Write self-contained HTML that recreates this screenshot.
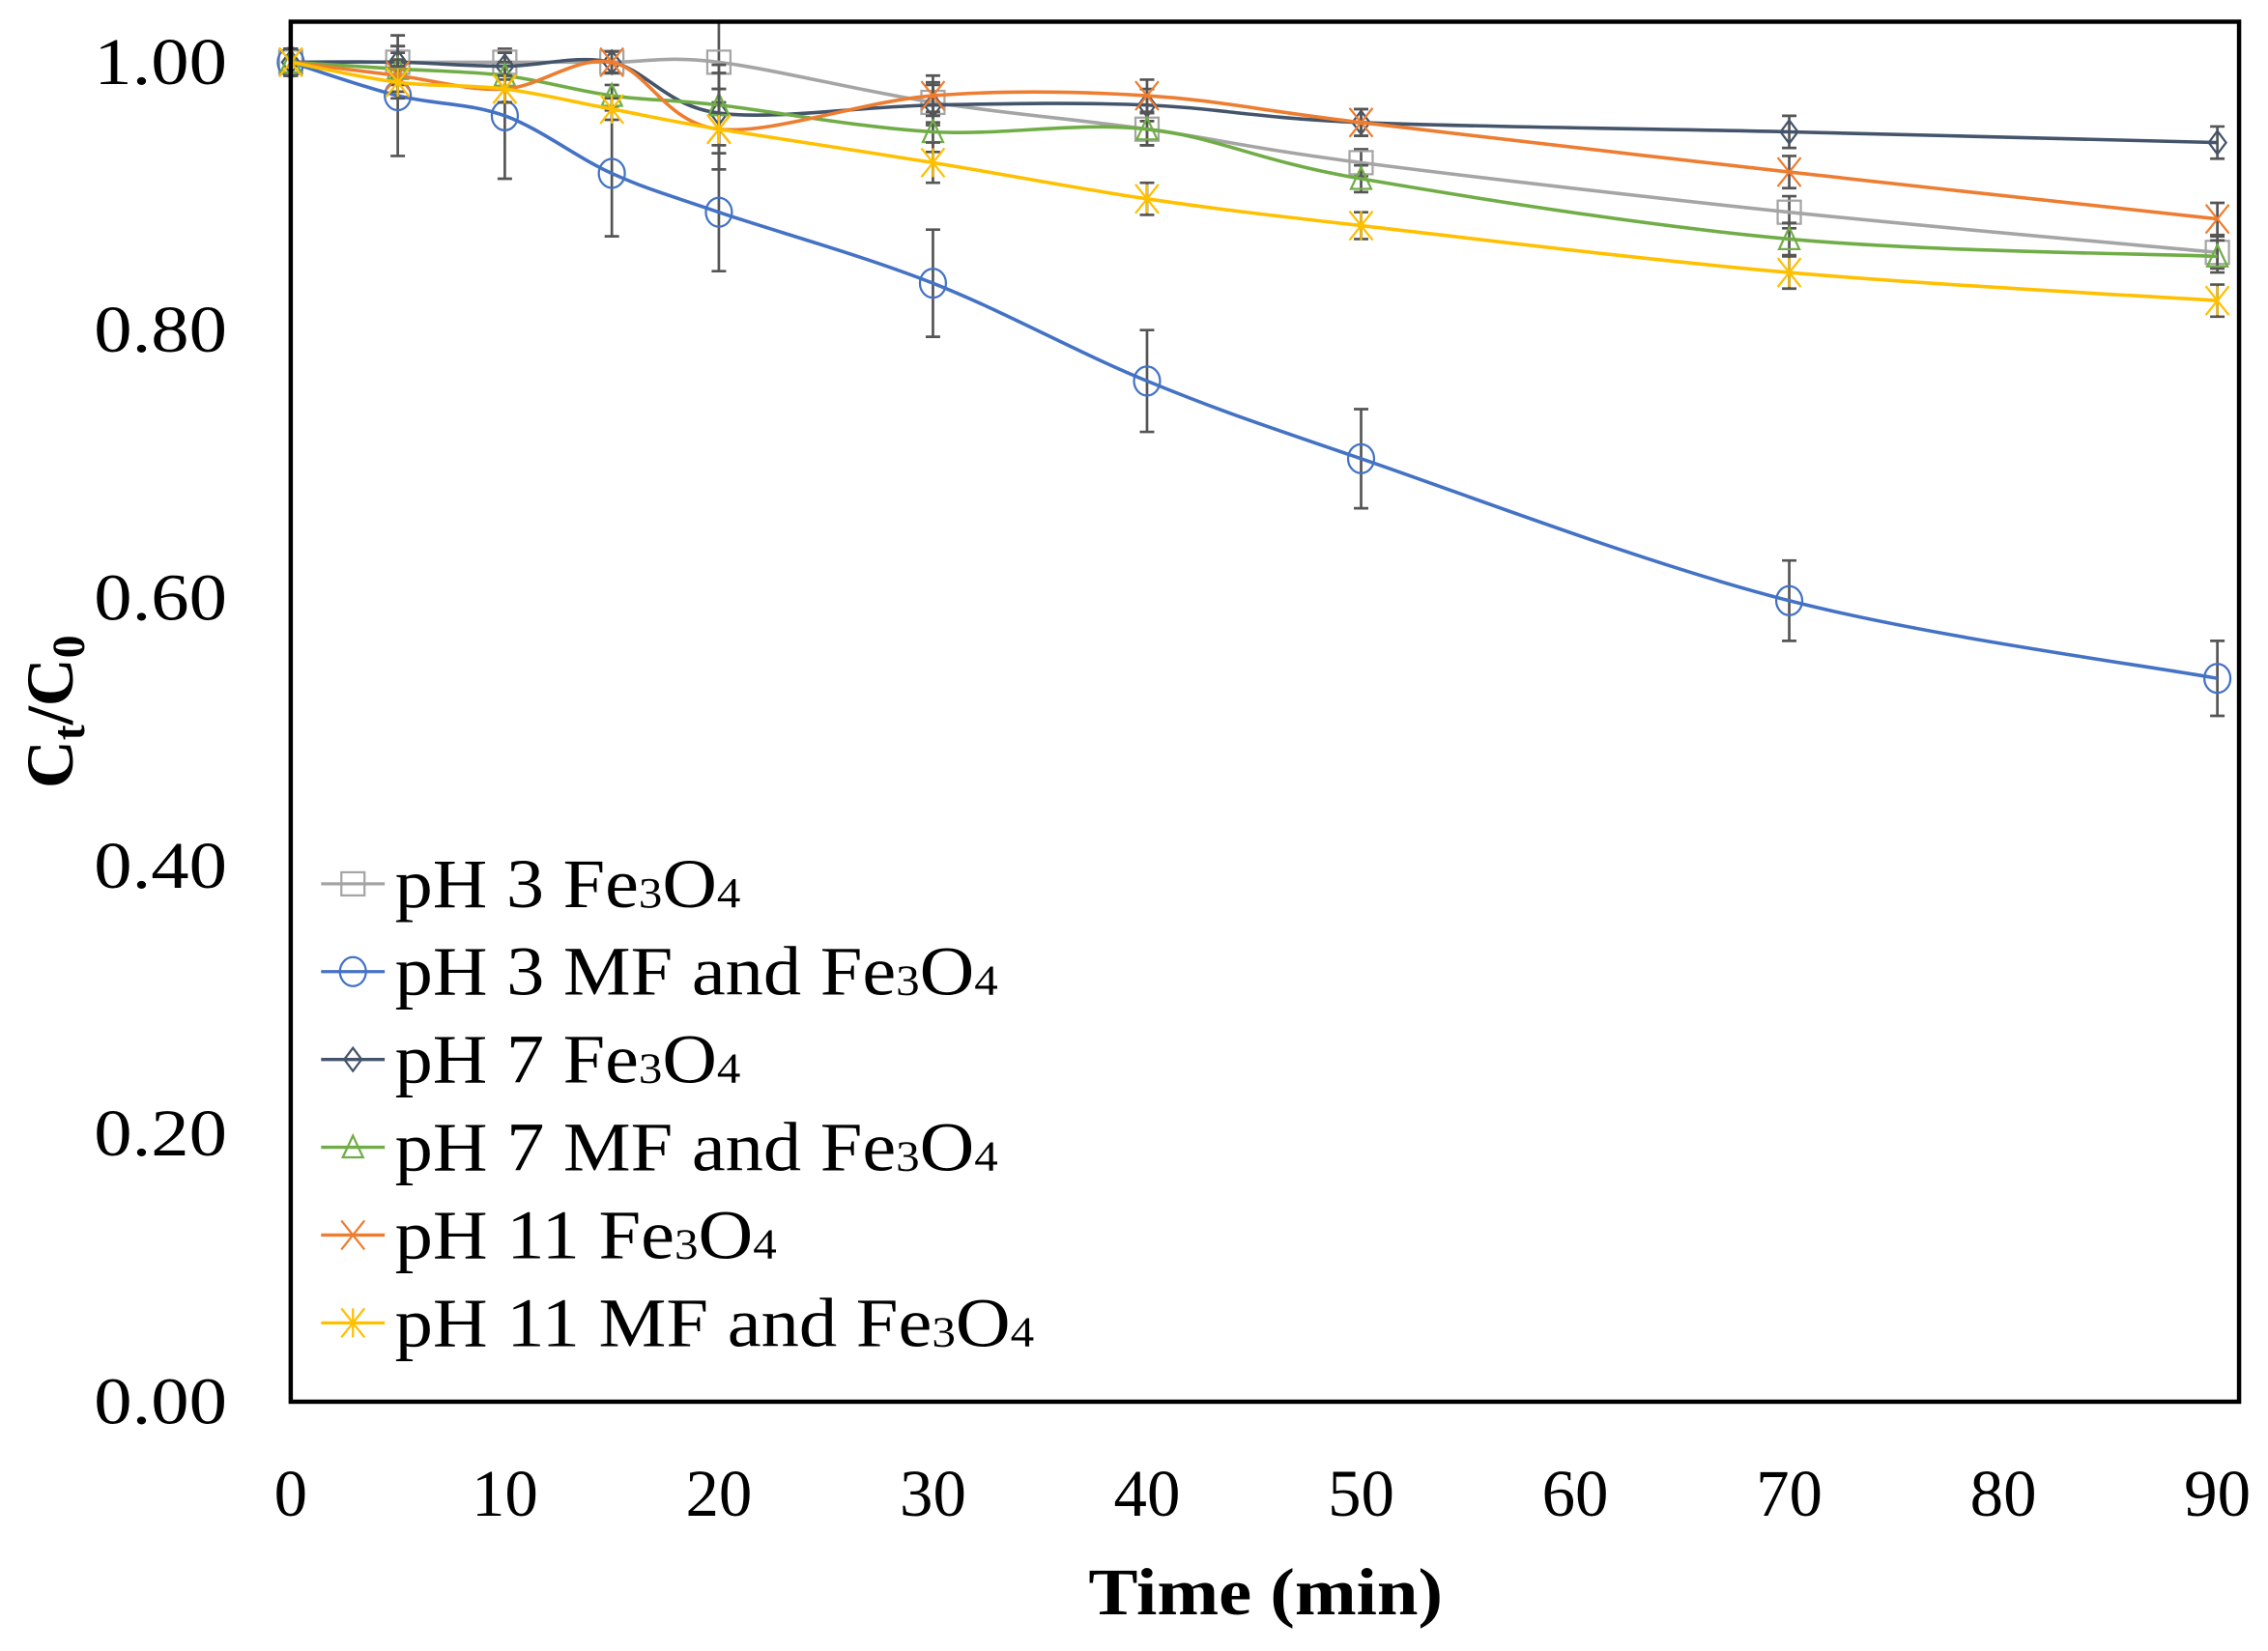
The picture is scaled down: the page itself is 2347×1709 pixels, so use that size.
<!DOCTYPE html>
<html><head><meta charset="utf-8"><style>
html,body{margin:0;padding:0;background:#fff;}
svg, svg text{font-family:"Liberation Serif","Times New Roman",Times,serif;}
</style></head><body>
<svg id="chart" width="2347" height="1704" viewBox="0 0 1568 1138" preserveAspectRatio="none" xmlns="http://www.w3.org/2000/svg" font-family="Liberation Serif, serif">
<rect x="0" y="0" width="1568" height="1138" fill="#fff"/>
<g id="plot"></g>
<rect x="201" y="15" width="1347" height="954" fill="none" stroke="#000" stroke-width="3"/>
<g id="axes"></g>
<text x="875" y="1116" font-size="46" font-weight="bold" text-anchor="middle" textLength="245" lengthAdjust="spacingAndGlyphs">Time (min)</text>
<text transform="translate(50,492) rotate(-90)" font-size="46" font-weight="bold" text-anchor="middle">C<tspan font-size="32" dy="8">t</tspan><tspan dy="-8">/C</tspan><tspan font-size="32" dy="8">0</tspan></text>
<g id="legend"></g>
</svg>
<script>
const xTimes = [0,5,10,15,20,30,40,50,70,90];
const seriesNames = ["pH 3 Fe3O4","pH 3 MF and Fe3O4","pH 7 Fe3O4","pH 7 MF and Fe3O4","pH 11 Fe3O4","pH 11 MF and Fe3O4"];
const pH3Fe = [1.00,1.00,1.00,1.00,1.00,0.97,0.95,0.925,0.888,0.858];
const pH3MF = [1.00,0.975,0.96,0.917,0.888,0.835,0.762,0.704,0.598,0.540];
const pH7Fe = [1.00,1.00,0.997,1.00,0.962,0.968,0.968,0.955,0.948,0.940];
const pH7MF = [1.00,0.995,0.99,0.975,0.968,0.948,0.950,0.913,0.868,0.855];
const pH11Fe = [1.00,0.99,0.98,1.00,0.95,0.975,0.975,0.955,0.918,0.883];
const pH11MF = [1.00,0.985,0.98,0.965,0.95,0.925,0.898,0.878,0.843,0.822];
const errBlue = [0.01,0.045,0.047,0.047,0.044,0.04,0.038,0.037,0.03,0.028];
const errOther = [0.01,0.012,0.01,0.008,0.03,0.015,0.012,0.01,0.012,0.012];
const yTicks = ["0.00","0.20","0.40","0.60","0.80","1.00"];
const xTicks = [0,10,20,30,40,50,60,70,80,90];
const colors = ["#a5a5a5","#4472c4","#44546a","#70ad47","#ed7d31","#ffc000"];
const markers = ["square","circle","diamond","triangle","x","star"];
const allSeries = [pH3Fe,pH3MF,pH7Fe,pH7MF,pH11Fe,pH11MF];

const NS="http://www.w3.org/2000/svg";
const FF="Liberation Serif, Times New Roman, serif";
const X = t => 201 + t*14.8;
const Y = v => 969 - v*926;
function mk(tag, attrs, parent){const e=document.createElementNS(NS,tag);for(const k in attrs)e.setAttribute(k,attrs[k]);parent.appendChild(e);return e;}
const plot=document.getElementById('plot'), axes=document.getElementById('axes'), legend=document.getElementById('legend');

yTicks.forEach(l=>{
  const t=mk('text',{x:157,y:Y(+l)+15,'font-size':46,'text-anchor':'end','font-family':FF,textLength:92,lengthAdjust:'spacingAndGlyphs'},axes);
  
  
  t.textContent=l;
});
xTicks.forEach(v=>{
  const t=mk('text',{x:X(v),y:1048,'font-size':46,'text-anchor':'middle','font-family':FF},axes);
  
  
  t.textContent=v;
});

function smooth(pts){
  let d=`M${pts[0][0]},${pts[0][1]}`;
  for(let i=0;i<pts.length-1;i++){
    const p0=pts[i-1]||pts[i],p1=pts[i],p2=pts[i+1],p3=pts[i+2]||p2;
    const c1=[p1[0]+(p2[0]-p0[0])/6,p1[1]+(p2[1]-p0[1])/6];
    const c2=[p2[0]-(p3[0]-p1[0])/6,p2[1]-(p3[1]-p1[1])/6];
    d+=` C${c1[0]},${c1[1]} ${c2[0]},${c2[1]} ${p2[0]},${p2[1]}`;
  }
  return d;
}
function marker(type,cx,cy,col,parent){
  const s=8, a={fill:'none',stroke:col,'stroke-width':1.5};
  let e;
  if(type==='square') e=mk('rect',Object.assign({x:cx-s,y:cy-s,width:2*s,height:2*s},a),parent);
  else if(type==='circle') e=mk('ellipse',Object.assign({cx,cy,rx:s+1,ry:s+2},a),parent);
  else if(type==='diamond') e=mk('path',Object.assign({d:`M${cx},${cy-s} L${cx+6},${cy} L${cx},${cy+s} L${cx-6},${cy}Z`},a),parent);
  else if(type==='triangle') e=mk('path',Object.assign({d:`M${cx},${cy-s} L${cx+7},${cy+7} L${cx-7},${cy+7}Z`},a),parent);
  else if(type==='x') e=mk('path',Object.assign({d:`M${cx-8},${cy-10} L${cx+8},${cy+10} M${cx+8},${cy-10} L${cx-8},${cy+10}`},a),parent);
  else e=mk('path',Object.assign({d:`M${cx-8},${cy-10} L${cx+8},${cy+10} M${cx+8},${cy-10} L${cx-8},${cy+10} M${cx},${cy-10} L${cx},${cy+10}`},a),parent);
  return e;
}

allSeries.forEach((vals,si)=>{
  const g=mk('g',{},plot);
  
  
  const errs = si===1?errBlue:errOther;
  vals.forEach((v,i)=>{
    const x=X(xTimes[i]);
    const eb=mk('path',{d:`M${x},${Y(v+errs[i])} V${Y(v-errs[i])} M${x-5},${Y(v+errs[i])} H${x+5} M${x-5},${Y(v-errs[i])} H${x+5}`,stroke:'#555','stroke-width':1.8,fill:'none'},g);
    
    
  });
  const pts=vals.map((v,i)=>[X(xTimes[i]),Y(v)]);
  const ln=mk('path',{d:smooth(pts),fill:'none',stroke:colors[si],'stroke-width':2.4},g);
  
  
  pts.forEach(p=>{
    const m=marker(markers[si],p[0],p[1],colors[si],g);
    
    
  });
});

seriesNames.forEach((n,i)=>{
  const y=611+i*60.7;
  const g=mk('g',{},legend);
  
  
  mk('line',{x1:222,x2:266,y1:y,y2:y,stroke:colors[i],'stroke-width':2.2},g);
  marker(markers[i],244,y,colors[i],g);
  const t=mk('text',{x:273,y:y+16,'font-size':48,'font-family':FF},g);
  const parts=n.split('Fe3O4');
  t.appendChild(document.createTextNode(parts[0]+'Fe'));
  const s1=mk('tspan',{'font-size':30},t); s1.textContent='3';
  t.appendChild(document.createTextNode('O'));
  const s2=mk('tspan',{'font-size':30},t); s2.textContent='4';
  const widths=[239,417,239,417,264,442];
  t.setAttribute('textLength',widths[i]);
  t.setAttribute('lengthAdjust','spacingAndGlyphs');
});
</script>
</body></html>
